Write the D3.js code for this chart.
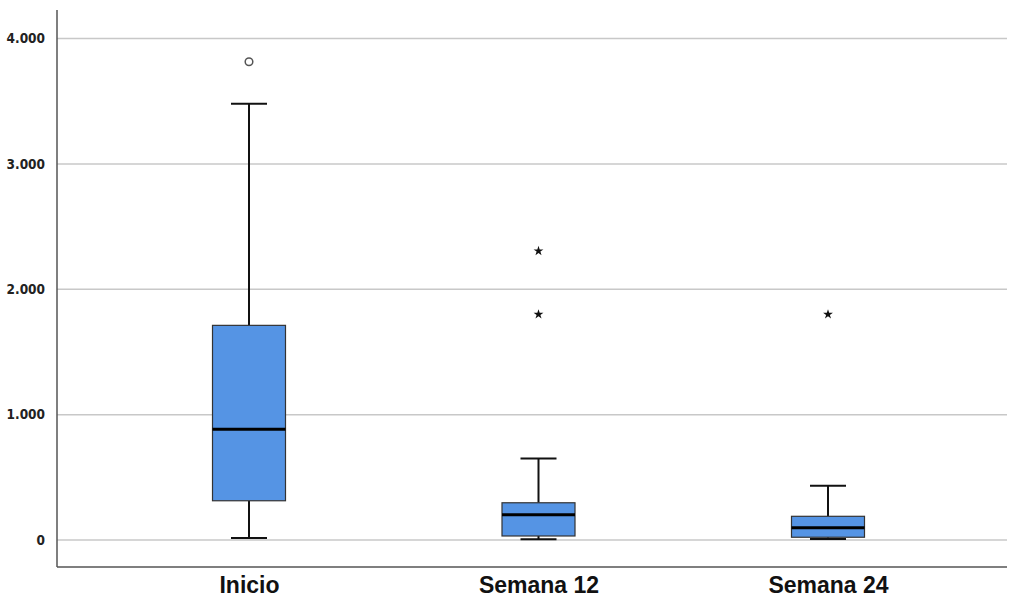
<!DOCTYPE html>
<html><head><meta charset="utf-8">
<script src="https://cdn.jsdelivr.net/npm/d3@7/dist/d3.min.js"></script>
<style>body{margin:0;background:#fff}svg{display:block}</style>
</head><body><svg id="c" width="1009" height="599"></svg>
<script>
const categories = ["Inicio", "Semana 12", "Semana 24"];
const q1 = [313, 32, 22];
const median = [883, 202, 98];
const q3 = [1712, 297, 189];
const whiskerLow = [16, 5, 8];
const whiskerHigh = [3479, 651, 433];
const outliersCircle = [[3814], [], []];
const outliersStar = [[], [2305, 1800], [1800]];
const yTicks = [0, 1000, 2000, 3000, 4000];
const yTickLabels = ["0", "1.000", "2.000", "3.000", "4.000"];

(function () {
const svg = d3.select("#c");
const mLeft = 57, mRight = 1007, mTop = 10, mBottom = 567;
const y = d3.scaleLinear().domain([0, 4000]).range([540, 38.5]);
const x = d3.scalePoint().domain(categories).range([249, 828]);
const boxW = 73, capW = 36;

// gridlines
svg.append("g").selectAll("line").data(yTicks).join("line")
  .attr("x1", mLeft).attr("x2", mRight)
  .attr("y1", d => y(d)).attr("y2", d => y(d))
  .attr("stroke", "#c8c8c8").attr("stroke-width", 1.5);

// axes
const yAxis = d3.axisLeft(y).tickValues(yTicks).tickFormat((d, i) => yTickLabels[i]).tickSize(0).tickPadding(12);
const gy = svg.append("g").attr("transform", `translate(${mLeft},0)`).call(yAxis);
gy.select(".domain").remove();
gy.selectAll("text").attr("font-family", "'DejaVu Sans Condensed', sans-serif")
  .attr("font-weight", "bold").attr("font-size", 13.5).attr("fill", "#222");

svg.append("line").attr("x1", mLeft).attr("x2", mLeft).attr("y1", mTop).attr("y2", mBottom)
  .attr("stroke", "#555").attr("stroke-width", 1.5);
svg.append("line").attr("x1", mLeft).attr("x2", mRight).attr("y1", mBottom).attr("y2", mBottom)
  .attr("stroke", "#555").attr("stroke-width", 1.5);

const xAxis = d3.axisBottom(x).tickSize(0).tickPadding(10);
const gx = svg.append("g").attr("transform", `translate(0,${mBottom})`).call(xAxis);
gx.select(".domain").remove();
gx.selectAll("text").attr("font-family", "Liberation Sans, Arial, sans-serif")
  .attr("font-weight", "bold").attr("font-size", 23).attr("fill", "#111");

const data = categories.map((c, i) => ({c, q1: q1[i], med: median[i], q3: q3[i], lo: whiskerLow[i], hi: whiskerHigh[i]}));
const g = svg.append("g").selectAll("g").data(data).join("g");

// whiskers
g.append("line").attr("x1", d => x(d.c)).attr("x2", d => x(d.c))
  .attr("y1", d => y(d.hi)).attr("y2", d => y(d.q3)).attr("stroke", "#111").attr("stroke-width", 2);
g.append("line").attr("x1", d => x(d.c)).attr("x2", d => x(d.c))
  .attr("y1", d => y(d.lo)).attr("y2", d => y(d.q1)).attr("stroke", "#111").attr("stroke-width", 2);
g.append("line").attr("x1", d => x(d.c) - capW/2).attr("x2", d => x(d.c) + capW/2)
  .attr("y1", d => y(d.hi)).attr("y2", d => y(d.hi)).attr("stroke", "#111").attr("stroke-width", 2);
g.append("line").attr("x1", d => x(d.c) - capW/2).attr("x2", d => x(d.c) + capW/2)
  .attr("y1", d => y(d.lo)).attr("y2", d => y(d.lo)).attr("stroke", "#111").attr("stroke-width", 2);

// boxes
g.append("rect").attr("x", d => x(d.c) - boxW/2).attr("width", boxW)
  .attr("y", d => y(d.q3)).attr("height", d => y(d.q1) - y(d.q3))
  .attr("fill", "#5594e4").attr("stroke", "#333").attr("stroke-width", 1.2);
g.append("line").attr("x1", d => x(d.c) - boxW/2).attr("x2", d => x(d.c) + boxW/2)
  .attr("y1", d => y(d.med)).attr("y2", d => y(d.med)).attr("stroke", "#000").attr("stroke-width", 3);

// outliers
categories.forEach((c, i) => {
  svg.append("g").selectAll("circle").data(outliersCircle[i]).join("circle")
    .attr("cx", x(c)).attr("cy", d => y(d)).attr("r", 3.8)
    .attr("fill", "#fff").attr("stroke", "#555").attr("stroke-width", 1.5);
  svg.append("g").selectAll("path").data(outliersStar[i]).join("path")
    .attr("transform", d => `translate(${x(c)},${y(d)})`)
    .attr("d", d3.symbol(d3.symbolStar, 30)).attr("fill", "#111");
});
})();
</script></body></html>
